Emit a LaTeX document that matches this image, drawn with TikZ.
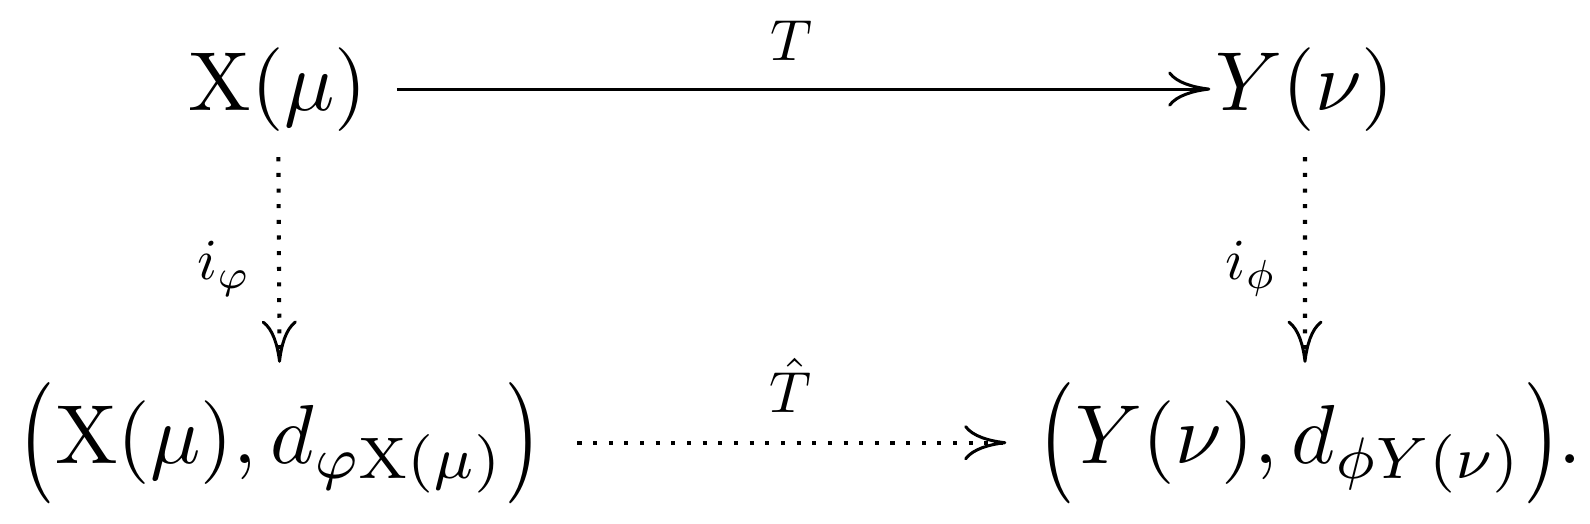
\documentclass[tikz,border=0pt]{standalone}
\usepackage{amsmath}
\usepackage{graphicx}
\usetikzlibrary{arrows.meta}
\newcommand{\bigopen}{\mathopen{\raisebox{-1.2pt}{\scalebox{1.1}[1.45]{$($}}}}
\newcommand{\bigclose}{\mathclose{\raisebox{-1.2pt}{\scalebox{1.1}[1.45]{$)$}}}}
\begin{document}
\begin{tikzpicture}[x=0.01cm,y=-0.01cm,
  obj/.style={scale=2.38, inner sep=0pt, anchor=base},
  lbl/.style={scale=1.65, inner sep=0pt},
  arr/.style={line width=0.85pt, -{Computer Modern Rightarrow[length=12pt,width=10pt,line width=0.85pt]}},
  dotline/.style={line width=1.15pt, dash pattern=on 1.15pt off 3.3pt, line cap=butt}]
\useasboundingbox (0,0) rectangle (1590,524);
\node[obj] (xm) at (278,110) {$\mathrm{X}(\mu)$};
\node[obj] (yv) at (1305,110) {$Y(\nu)$};
\node[obj] (xd) at (280,463) {$\bigopen\mathrm{X}(\mu),d_{\varphi\mathrm{X}(\mu)}\bigclose$};
\node[obj, anchor=base west] (yd) at (1038,463) {$\bigopen Y(\nu),d_{\phi Y(\nu)}\bigclose.$};
\draw[arr, shorten <=8pt, shorten >=1pt] (xm) -- (yv) node[lbl, midway, above=4.5pt] (t) {$T$};
\draw[arr, dotline, shorten <=10pt, shorten >=9pt] (xd) -- (yd) node[lbl, midway, above=4.6pt] (th) {$\hat{T}$};
\draw[arr, dotline, shorten <=7pt, shorten >=5pt] (xm) -- (xd) node[lbl, pos=0.55, left=4.3pt] (ip) {$i_{\varphi}$};
\draw[arr, dotline, shorten <=7pt, shorten >=5pt] (yv) -- (yv |- yd.north) node[lbl, pos=0.55, left=4.3pt] (iph) {$i_{\phi}$};
\end{tikzpicture}
\end{document}
